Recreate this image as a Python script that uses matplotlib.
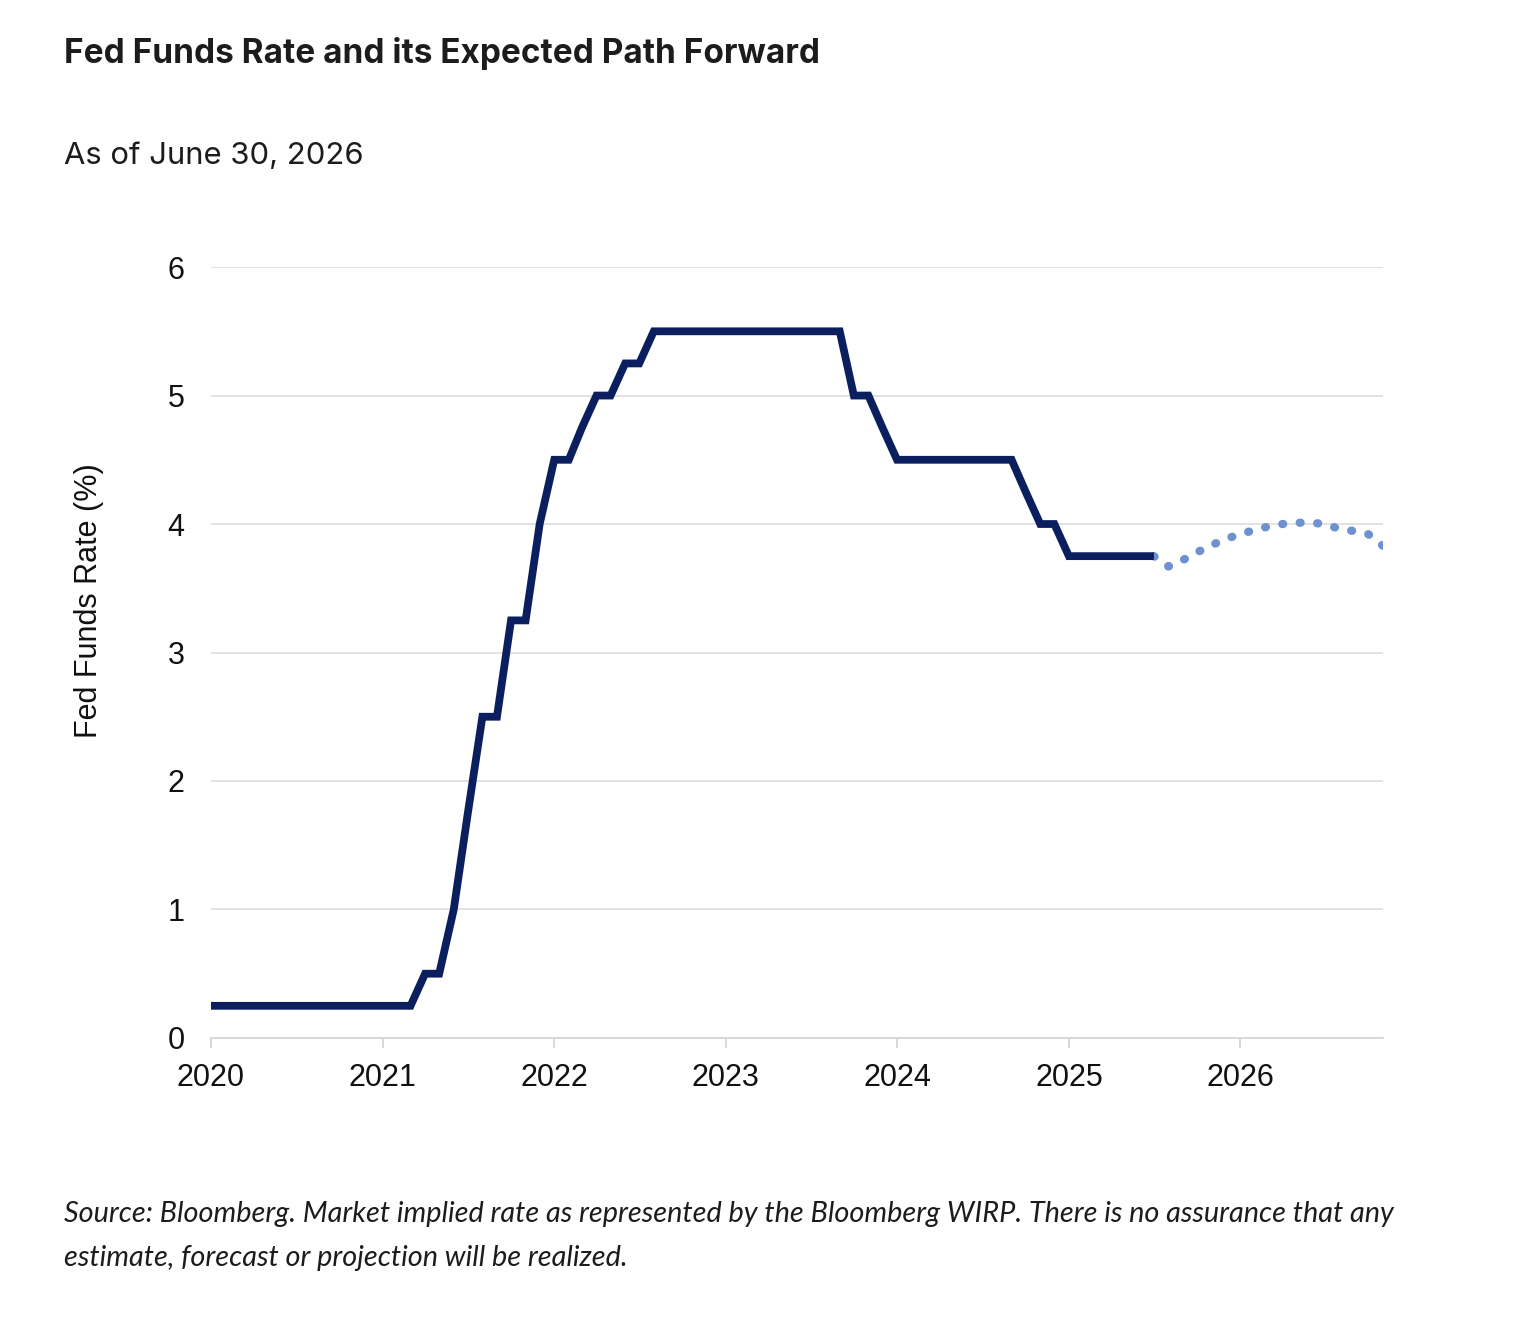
import matplotlib
matplotlib.use("Agg")
import matplotlib.pyplot as plt
import matplotlib.dates as mdates
import pandas as pd

# monthly fed funds rate, Jan 2020 - Jul 2025
actual_rate = ([0.25] * 15 +
               [0.5, 0.5, 1.0, 1.75, 2.5, 2.5, 3.25, 3.25, 4.0, 4.5, 4.5, 4.75,
                5.0, 5.0, 5.25, 5.25] +
               [5.5] * 14 +
               [5.0, 5.0, 4.75] +
               [4.5] * 9 +
               [4.25, 4.0, 4.0] +
               [3.75] * 7)
actual_dates = pd.date_range("2020-01-01", periods=len(actual_rate), freq="MS")

# market implied path, Jul 2025 - Nov 2026
implied_rate = [3.75, 3.67, 3.72, 3.78, 3.835, 3.885, 3.92, 3.955, 3.98, 4.0,
                4.01, 4.01, 4.0, 3.96, 3.945, 3.92, 3.83]
implied_dates = pd.date_range("2025-07-01", periods=len(implied_rate), freq="MS")

year_ticks = pd.date_range("2020-01-01", "2026-01-01", freq="YS")
y_ticks = [0, 1, 2, 3, 4, 5, 6]

title = "Fed Funds Rate and its Expected Path Forward"
subtitle = "As of June 30, 2026"
ylabel = "Fed Funds Rate (%)"
footnote = ("Source: Bloomberg. Market implied rate as represented by the Bloomberg WIRP. "
            "There is no assurance that any\nestimate, forecast or projection will be realized.")

fig = plt.figure(figsize=(15.2, 13.36), dpi=100)
ax = fig.add_axes([0.1388, 0.2231, 0.9099 - 0.1388, 0.8001 - 0.2231])

ax.plot(implied_dates, implied_rate, color="#6f91d0", lw=6.0,
        dashes=(0.1, 2.0), dash_capstyle="round", zorder=2)
ax.plot(actual_dates, actual_rate, color="#0b1f5e", lw=5.6,
        solid_joinstyle="miter", solid_capstyle="butt", zorder=3)

ax.set_xlim(pd.Timestamp("2020-01-01"), pd.Timestamp("2026-11-01"))
ax.set_ylim(0, 6)
ax.set_yticks(y_ticks)
ax.set_xticks(year_ticks)
ax.xaxis.set_major_formatter(mdates.DateFormatter("%Y"))

ax.grid(axis="y", color="#e2e2e2", lw=1.4)
ax.set_axisbelow(True)
for s in ["top", "right", "left"]:
    ax.spines[s].set_visible(False)
ax.spines["bottom"].set_color("#d8d8d8")
ax.spines["bottom"].set_linewidth(1.4)

ax.tick_params(axis="y", length=0, pad=19, labelsize=22, labelcolor="#111111")
ax.tick_params(axis="x", length=7, width=1.4, color="#d8d8d8", pad=11,
               labelsize=22, labelcolor="#111111")
for lab in ax.get_xticklabels() + ax.get_yticklabels():
    lab.set_family("Liberation Sans")

ax.set_ylabel(ylabel, fontsize=22, family="Liberation Sans", color="#111111")
ax.yaxis.set_label_coords(-0.091, 0.567)

fig.text(64 / 1520, 1 - 53 / 1336, title, fontsize=24, fontweight="bold",
         family="Inter", color="#1c1c1c", va="center", ha="left")
fig.text(64 / 1520, 1 - 156 / 1336, subtitle, fontsize=22.3, family="Inter",
         color="#1c1c1c", va="center", ha="left")
fig.text(64 / 1520, 1 - 1236 / 1336, footnote, fontsize=20.8, style="italic",
         family="Lato", color="#1c1c1c", va="center", ha="left", linespacing=1.85)

fig.savefig("out.png", dpi=100)
